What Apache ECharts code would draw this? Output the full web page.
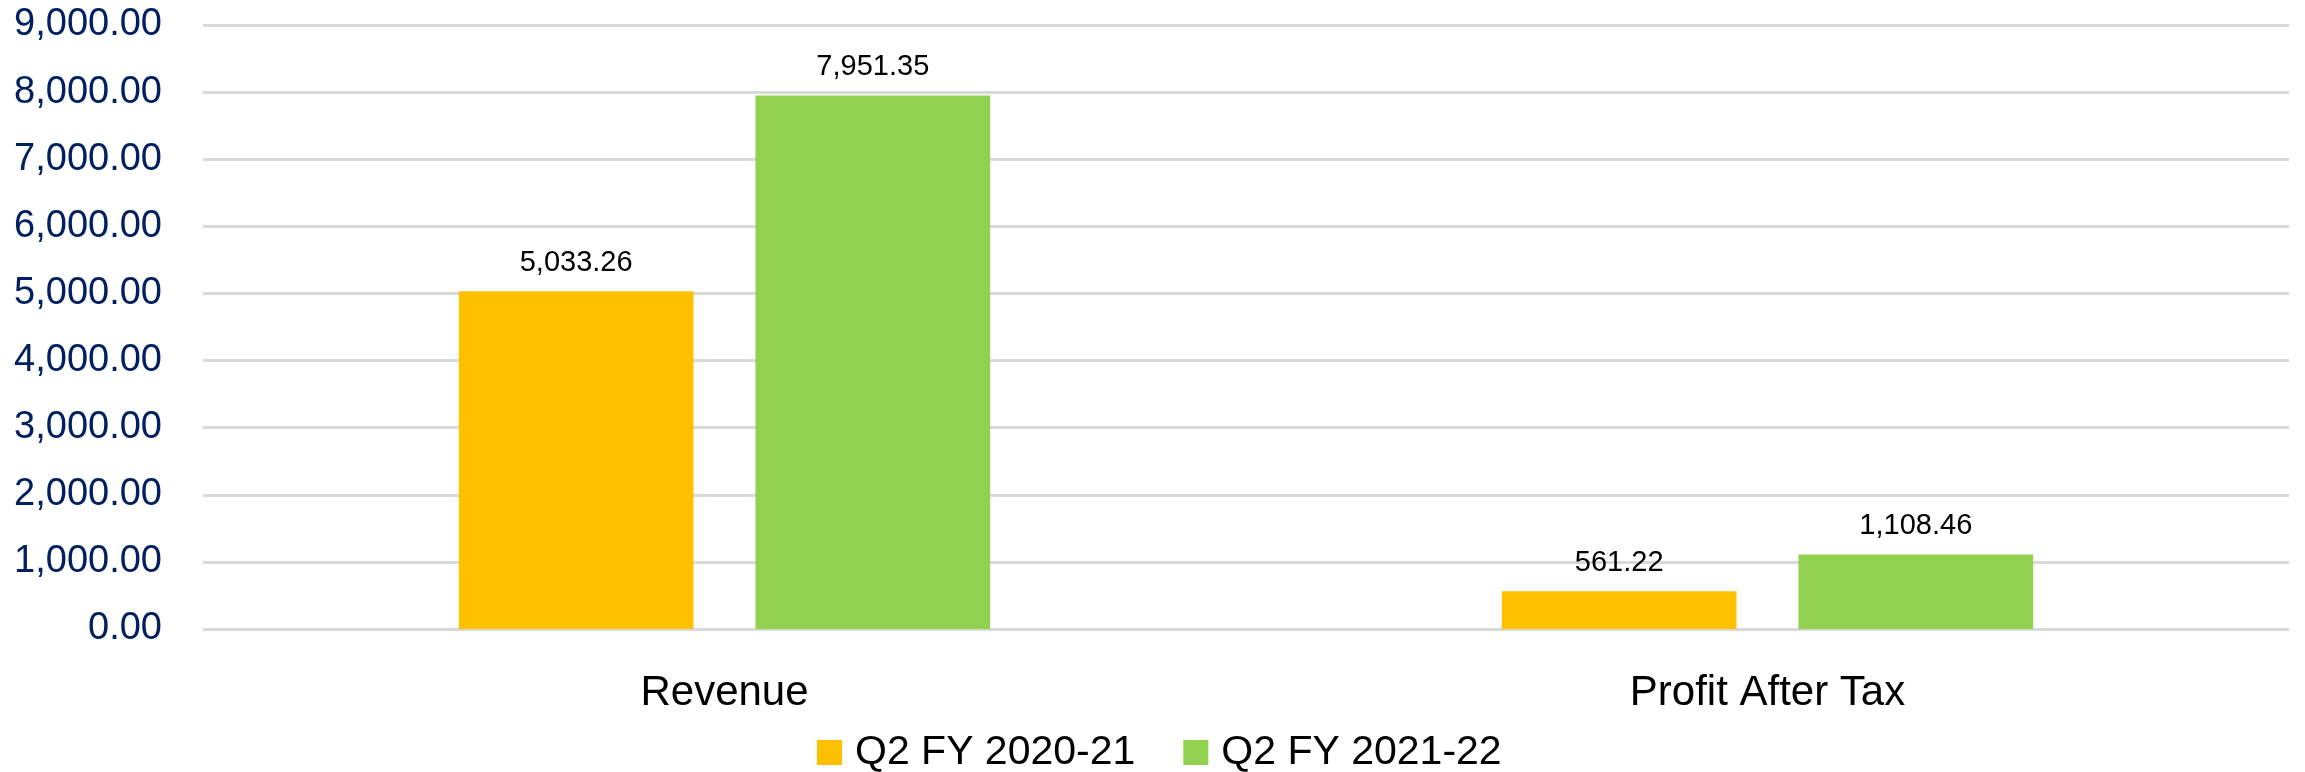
<!DOCTYPE html>
<html>
<head>
<meta charset="utf-8">
<script src="https://cdn.jsdelivr.net/npm/echarts@6/dist/echarts.min.js"></script>
<style>
  html, body { margin: 0; padding: 0; background: #fff; }
  #chart { width: 2305px; height: 772px; }
</style>
</head>
<body>
<div id="chart"></div>
<script>
// chart data
const categories = ['Revenue', 'Profit After Tax']
const seriesNames = ['Q2 FY 2020-21', 'Q2 FY 2021-22']
const q2Fy2021 = [5033.26, 561.22]
const q2Fy2122 = [7951.35, 1108.46]
const yMin = 0
const yMax = 9000
const yStep = 1000

const fmt = (v) =>
  Number(v).toLocaleString('en-US', { minimumFractionDigits: 2, maximumFractionDigits: 2 })

const chart = echarts.init(document.getElementById('chart'), null, { renderer: 'canvas' })
const font = '"Liberation Sans", Arial, sans-serif'

const barLabel = {
  show: true,
  position: 'top',
  distance: 14,
  color: '#000',
  fontFamily: font,
  fontSize: 29,
  formatter: (p) => fmt(p.value)
}

chart.setOption({
  animation: false,
  backgroundColor: '#fff',
  grid: {
    left: 203,
    right: 16,
    top: 25,
    bottom: 143
  },
  legend: {
    data: seriesNames,
    left: 812,
    top: 727,
    icon: 'rect',
    itemWidth: 25,
    itemHeight: 25,
    itemGap: 48,
    textStyle: {
      color: '#000',
      fontFamily: font,
      fontSize: 41,
      padding: [0, 0, 0, 8]
    }
  },
  xAxis: {
    type: 'category',
    data: categories,
    axisLine: { show: false },
    axisTick: { show: false },
    axisLabel: {
      color: '#000',
      fontFamily: font,
      fontSize: 42,
      lineHeight: 40,
      margin: 44
    }
  },
  yAxis: {
    type: 'value',
    min: yMin,
    max: yMax,
    interval: yStep,
    axisLine: { show: false },
    axisTick: { show: false },
    axisLabel: {
      color: '#002060',
      fontFamily: font,
      fontSize: 38,
      margin: 41,
      formatter: (v) => fmt(v)
    },
    splitLine: {
      lineStyle: { color: '#d9d9d9', width: 3 }
    }
  },
  series: [
    {
      name: seriesNames[0],
      type: 'bar',
      data: q2Fy2021,
      barWidth: '22.5%',
      barGap: '26.4%',
      itemStyle: { color: '#FFC000' },
      label: barLabel
    },
    {
      name: seriesNames[1],
      type: 'bar',
      data: q2Fy2122,
      barWidth: '22.5%',
      itemStyle: { color: '#92D050' },
      label: barLabel
    }
  ]
})
</script>
</body>
</html>
